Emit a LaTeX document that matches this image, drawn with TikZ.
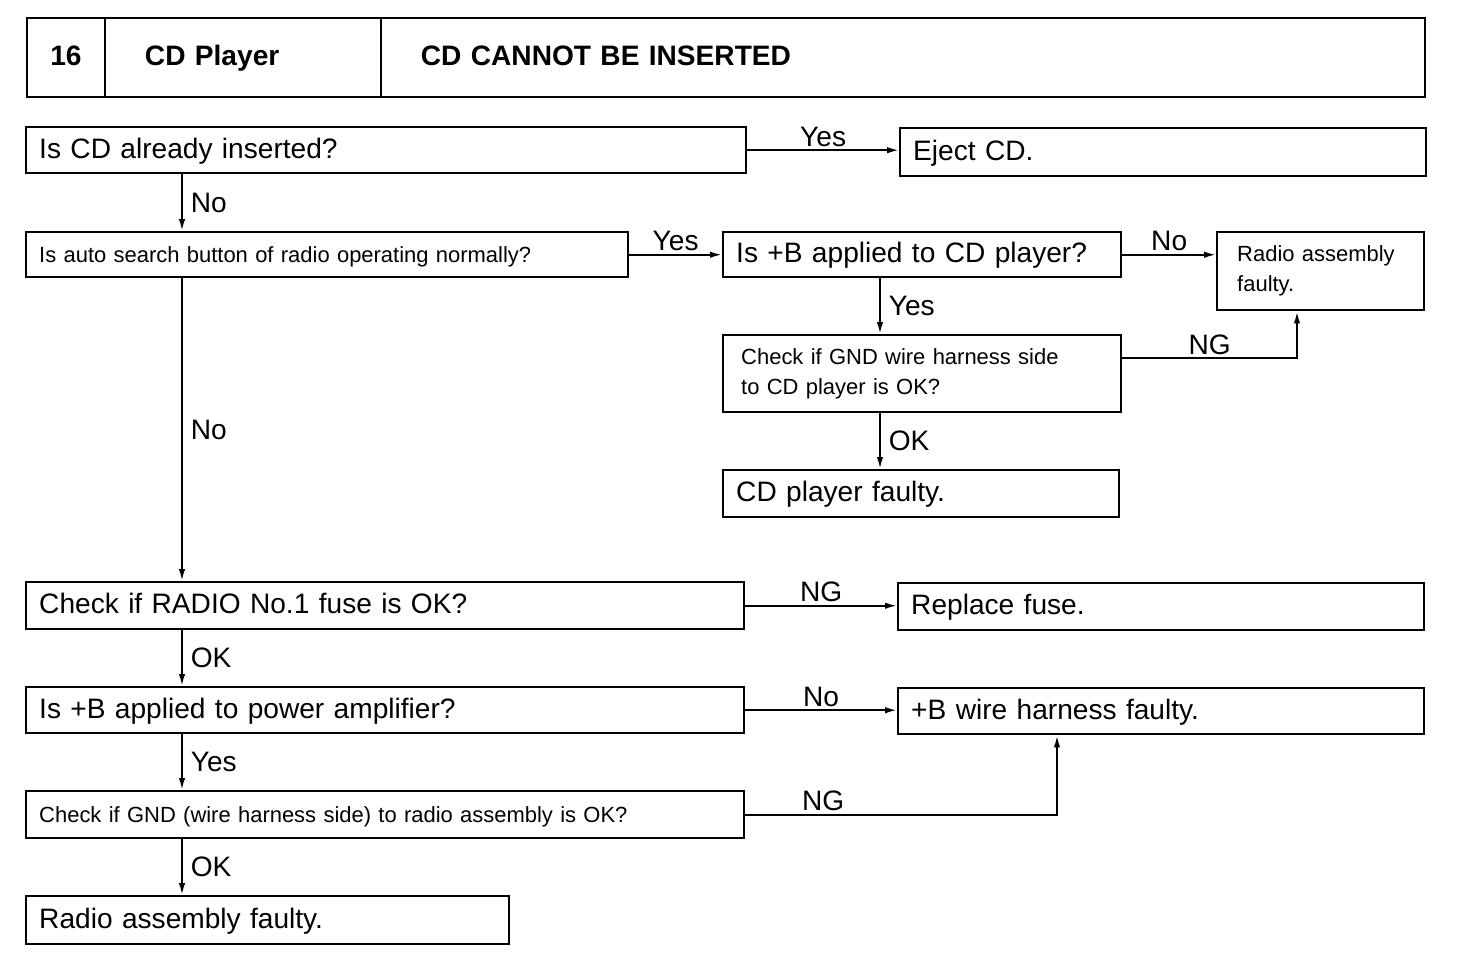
\documentclass[tikz,border=0pt]{standalone}
\usepackage{fontspec}
\setmainfont{Liberation Sans}
\usetikzlibrary{arrows.meta}
\newcommand\bigtxt{\fontsize{16}{19}\selectfont}
\newcommand\smalltxt{\fontsize{12.5}{17}\selectfont}
\tikzset{
  frame/.style={draw, line width=1.4pt, anchor=north west, inner xsep=0.26cm, inner ysep=2pt, align=left, font=\bigtxt},
  box/.style={frame, text height=12pt, text depth=3pt},
  hbox/.style={draw, line width=1.4pt, anchor=north west, outer sep=0pt, minimum height=1.58cm, inner xsep=0.8cm,
    text height=12pt, text depth=3pt, align=left, font=\bigtxt\bfseries},
  arr/.style={line width=1.1pt, -{Latex[length=2.4mm,width=1.3mm]}},
  lbl/.style={font=\bigtxt, inner sep=1.5pt},
  rlbl/.style={lbl, right, xshift=3pt}
}
\begin{document}
\begin{tikzpicture}[x=0.02cm, y=-0.02cm]
    \useasboundingbox (0,0) rectangle (1472,960);

    % header
    \node[hbox, minimum width=1.56cm, inner xsep=0pt, align=center] (hnum) at (27,18) {16};
    \node[hbox, text width=3.92cm] (hsys) at (hnum.north east) {CD Player};
    \node[hbox, text width=19.28cm] (htitle) at (hsys.north east) {CD CANNOT BE INSERTED};

    % left column
    \node[box, text width=13.88cm, minimum height=0.92cm] (q1) at (25,126) {Is CD already inserted?};
    \node[box, text width=11.52cm, minimum height=0.90cm, font=\smalltxt] (q2) at (25,231) {Is auto search button of radio operating normally?};
    \node[box, text width=13.84cm, minimum height=0.94cm] (q5) at (25,581) {Check if RADIO No.1 fuse is OK?};
    \node[box, text width=13.84cm, minimum height=0.92cm] (q6) at (25,686) {Is +B applied to power amplifier?};
    \node[box, text width=13.84cm, minimum height=0.94cm, font=\smalltxt] (q7) at (25,790) {Check if GND (wire harness side) to radio assembly is OK?};
    \node[box, text width=9.14cm, minimum height=0.96cm] (r5) at (25,895) {Radio assembly faulty.};

    % right column
    \node[box, text width=10.0cm, minimum height=0.96cm] (e1) at (899,127) {Eject CD.};
    \node[box, text width=7.44cm, minimum height=0.90cm] (q3) at (722,231) {Is +B applied to CD player?};
    \node[frame, text width=3.34cm, minimum height=1.56cm, inner xsep=0.4cm, font=\smalltxt] (r1) at (1216,231) {Radio assembly\\faulty.};
    \node[frame, text width=7.24cm, minimum height=1.54cm, inner xsep=0.36cm, font=\smalltxt] (q4) at (722,334) {Check if GND wire harness side\\to CD player is OK?};
    \node[box, text width=7.40cm, minimum height=0.94cm] (r2) at (722,469) {CD player faulty.};
    \node[box, text width=10.0cm, minimum height=0.94cm] (r3) at (897,582) {Replace fuse.};
    \node[box, text width=10.0cm, minimum height=0.92cm] (r4) at (897,687) {+B wire harness faulty.};

    \coordinate (lx) at (182,0);
    \coordinate (mx) at (880,0);
    \coordinate (ng1) at (1297,358);
    \coordinate (ng2) at (1057,812);

    % horizontal arrows
    \draw[arr] (q1.east) -- node[lbl, above] {Yes} (q1.east -| e1.west);
    \draw[arr] (q2.east) -- node[lbl, above] {Yes} (q2.east -| q3.west);
    \draw[arr] (q3.east) -- node[lbl, above] {No} (q3.east -| r1.west);
    \draw[arr] (q5.east) -- node[lbl, above] {NG} (q5.east -| r3.west);
    \draw[arr] (q6.east) -- node[lbl, above] {No} (q6.east -| r4.west);
    \draw[arr] (q4.east |- ng1) -- node[lbl, above] {NG} (ng1) -- (r1.south -| ng1);
    \draw[arr] (q7.east) -- node[lbl, above, pos=0.25] {NG} (q7.east -| ng2) -- (r4.south -| ng2);

    % vertical arrows
    \draw[arr] (q1.south -| lx) -- node[rlbl] {No} (q2.north -| lx);
    \draw[arr] (q2.south -| lx) -- node[rlbl] {No} (q5.north -| lx);
    \draw[arr] (q5.south -| lx) -- node[rlbl] {OK} (q6.north -| lx);
    \draw[arr] (q6.south -| lx) -- node[rlbl] {Yes} (q7.north -| lx);
    \draw[arr] (q7.south -| lx) -- node[rlbl] {OK} (r5.north -| lx);
    \draw[arr] (q3.south -| mx) -- node[rlbl] {Yes} (q4.north -| mx);
    \draw[arr] (q4.south -| mx) -- node[rlbl] {OK} (r2.north -| mx);

\end{tikzpicture}
\end{document}
